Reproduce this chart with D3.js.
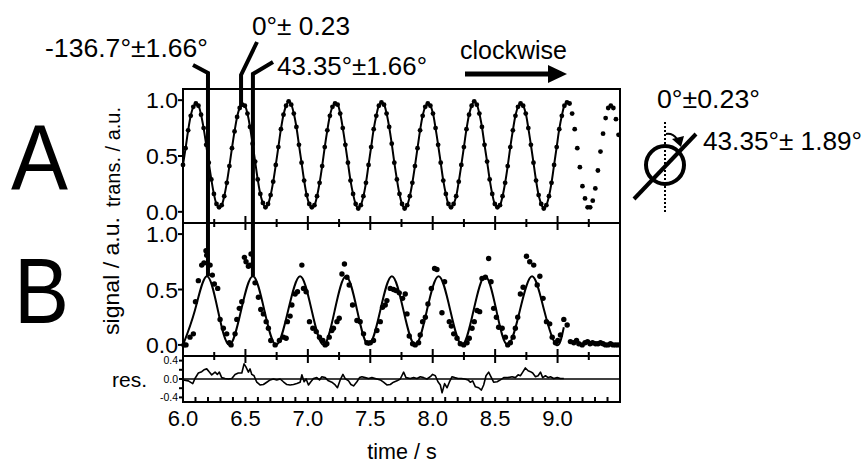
<!DOCTYPE html>
<html>
<head>
<meta charset="utf-8">
<script src="https://cdn.jsdelivr.net/npm/d3@7"></script>
<style>
  body { margin: 0; background: #fff; }
  svg { display: block; }
  text { font-family: "Liberation Sans", Arial, Helvetica, sans-serif; fill: #000; }
</style>
</head>
<body>
<div id="chart"></div>
<script>
// ---- transmission trace (panel A): uniform sampling from 6.0 s ----
const transStart = 6.0;
const transStep = 0.02064;
const transValues = [
  0.42,0.57,0.73,0.86,0.94,0.97,0.95,0.87,0.75,0.60,0.44,0.29,0.16,0.07,0.04,0.06,0.14,0.26,
  0.41,0.57,0.72,0.85,0.93,0.96,0.95,0.88,0.76,0.61,0.45,0.29,0.16,0.08,0.04,0.07,0.15,0.27,
  0.42,0.58,0.74,0.87,0.95,0.99,0.96,0.88,0.76,0.60,0.44,0.28,0.15,0.07,0.04,0.06,0.14,0.26,
  0.41,0.58,0.73,0.86,0.94,0.97,0.96,0.88,0.75,0.60,0.44,0.28,0.16,0.07,0.03,0.06,0.14,0.26,
  0.42,0.58,0.74,0.86,0.95,0.98,0.96,0.88,0.76,0.61,0.44,0.29,0.16,0.07,0.03,0.06,0.14,0.26,
  0.41,0.57,0.73,0.86,0.94,0.97,0.95,0.88,0.75,0.60,0.44,0.28,0.16,0.07,0.04,0.07,0.14,0.27,
  0.42,0.58,0.74,0.87,0.95,0.99,0.96,0.88,0.76,0.60,0.45,0.29,0.16,0.07,0.04,0.06,0.14,0.26,
  0.41,0.58,0.73,0.86,0.94,0.97,0.95,0.88,0.75,0.60,0.44,0.28,0.15,0.07,0.03,0.06,0.14,0.26,
  0.42,0.58,0.74,0.86,0.95,0.98,0.97,0.88,0.74,0.57,0.40,0.23,0.12,0.04,0.04,0.10,0.21,0.37,
  0.54,0.70,0.84,0.93,0.95,0.93,0.83,0.69
];
const transLineEnd = 9.08;   // trace is joined by a line up to this time

// ---- detector signal (panel B) ----
const signalTimes = [
  6.008,6.024,6.056,6.083,6.100,6.123,6.150,6.168,6.184,6.190,6.217,6.235,6.251,6.278,6.297,6.323,6.350,6.371,6.385,
  6.417,6.431,6.451,6.471,6.492,6.505,6.524,6.537,6.545,6.577,6.604,6.623,6.644,6.666,6.684,6.703,6.738,6.772,6.804,
  6.826,6.836,6.858,6.872,6.898,6.917,6.952,6.965,6.986,7.013,7.040,7.067,7.093,7.120,7.139,7.152,7.171,7.192,7.205,
  7.233,7.251,7.273,7.293,7.313,7.331,7.358,7.393,7.419,7.446,7.473,7.500,7.526,7.553,7.580,7.598,7.620,7.633,7.660,
  7.686,7.706,7.732,7.759,7.780,7.794,7.812,7.839,7.860,7.887,7.900,7.919,7.941,7.962,7.989,8.015,8.034,8.074,8.095,
  8.133,8.149,8.168,8.195,8.221,8.248,8.275,8.293,8.315,8.333,8.355,8.376,8.395,8.422,8.448,8.467,8.488,8.510,8.528,
  8.556,8.582,8.601,8.622,8.644,8.662,8.681,8.702,8.724,8.751,8.777,8.809,8.837,8.858,8.884,8.911,8.937,8.957,8.983,
  9.002,9.023,9.050,9.077,9.103,9.130,9.152,9.170,9.197,9.220,9.240,9.260,9.280,9.304,9.324,9.344,9.364,9.384,9.404,
  9.424,9.444,9.465,9.485
];
const signalValues = [
  0.00,0.00,0.07,0.10,0.39,0.58,0.72,0.74,0.85,0.81,0.72,0.63,0.55,0.51,0.23,0.15,0.10,0.02,0.00,
  0.10,0.23,0.33,0.39,0.79,0.75,0.71,0.72,0.82,0.56,0.43,0.32,0.28,0.21,0.15,0.04,0.00,0.04,0.07,
  0.06,0.21,0.26,0.36,0.46,0.48,0.72,0.51,0.48,0.21,0.15,0.12,0.07,0.04,0.00,0.01,0.07,0.13,0.15,
  0.21,0.24,0.64,0.73,0.61,0.54,0.36,0.22,0.21,0.10,0.02,0.02,0.04,0.13,0.21,0.34,0.36,0.40,0.51,
  0.50,0.49,0.47,0.42,0.46,0.28,0.08,0.01,0.00,0.02,0.09,0.21,0.25,0.37,0.51,0.69,0.68,0.29,0.57,
  0.21,0.17,0.10,0.06,0.01,0.00,0.02,0.06,0.15,0.21,0.31,0.30,0.60,0.61,0.78,0.57,0.33,0.25,0.16,
  0.15,0.07,0.00,0.02,0.07,0.15,0.25,0.46,0.52,0.80,0.75,0.72,0.54,0.62,0.42,0.21,0.19,0.07,0.02,
  0.04,0.09,0.23,0.18,0.03,0.02,0.04,0.01,0.00,0.02,0.03,0.01,0.02,0.01,0.01,0.02,0.01,0.00,0.00,
  0.01,0.00,0.00,0.00
];

// ---- fitted signal: extrema and half-height crossings ----
const fitTimes = [
  6.000,6.095,6.190,6.280,6.371,6.465,6.559,6.652,6.746,6.842,6.938,7.031,7.125,7.215,7.305,7.395,7.486,
  7.580,7.673,7.766,7.860,7.953,8.047,8.141,8.235,8.327,8.420,8.510,8.600,8.698,8.796,8.893,8.990,9.050
];
const fitValues = [
  0,0.31,0.62,0.31,0,0.31,0.62,0.31,0,0.31,0.62,0.31,0,0.31,0.62,0.31,0,
  0.31,0.62,0.31,0,0.31,0.62,0.31,0,0.31,0.62,0.31,0,0.31,0.62,0.31,0,0.16
];

// ---- residuals ----
const resTimes = [
  6.002,6.043,6.078,6.096,6.123,6.150,6.168,6.190,6.211,6.230,6.257,6.275,6.291,6.310,6.337,6.363,6.391,6.417,
  6.443,6.471,6.489,6.503,6.524,6.537,6.551,6.569,6.591,6.617,6.644,6.671,6.698,6.724,6.751,6.778,6.804,6.832,
  6.858,6.885,6.912,6.938,6.952,6.970,6.986,7.005,7.024,7.045,7.072,7.093,7.112,7.139,7.165,7.192,7.219,7.237,
  7.259,7.281,7.299,7.326,7.345,7.366,7.393,7.414,7.433,7.459,7.486,7.513,7.553,7.580,7.606,7.633,7.660,7.686,
  7.714,7.740,7.767,7.786,7.820,7.847,7.874,7.901,7.927,7.954,7.981,7.999,8.021,8.042,8.061,8.075,8.095,8.115,
  8.133,8.155,8.176,8.203,8.229,8.256,8.283,8.301,8.320,8.342,8.368,8.390,8.408,8.427,8.448,8.470,8.488,8.516,
  8.542,8.569,8.604,8.636,8.662,8.684,8.702,8.721,8.742,8.764,8.783,8.801,8.823,8.844,8.863,8.881,8.903,8.925,
  8.943,8.969,8.997,9.023,9.050
];
const resValues = [
  -0.02,-0.04,-0.10,0.01,0.13,0.16,0.20,0.22,0.15,0.09,0.15,0.10,0.15,0.03,0.01,0.00,0.01,0.10,
  0.13,0.13,0.33,0.27,0.15,0.22,0.10,0.07,-0.07,-0.13,-0.12,-0.07,-0.02,0.00,-0.02,0.00,-0.06,-0.12,
  -0.13,-0.12,-0.10,-0.07,0.09,-0.06,0.00,-0.13,-0.06,0.01,0.03,-0.02,0.05,0.03,-0.04,-0.07,-0.13,-0.19,
  -0.02,0.10,0.01,-0.04,-0.12,-0.15,-0.06,0.03,0.05,0.03,0.01,0.03,0.00,-0.02,-0.07,-0.13,-0.12,-0.07,
  -0.04,0.00,0.15,0.03,0.01,0.03,0.01,0.05,0.03,0.00,0.05,0.10,0.07,-0.06,-0.13,-0.30,-0.10,-0.19,
  -0.07,0.05,0.03,0.01,0.01,0.00,-0.02,-0.07,-0.04,-0.17,-0.19,-0.24,-0.13,0.07,0.15,0.03,-0.07,-0.06,
  -0.02,0.03,0.03,0.05,0.03,0.09,0.07,0.15,0.24,0.18,0.16,0.13,0.05,0.07,0.15,0.03,0.07,0.03,
  0.05,0.01,0.03,0.01,0.01
];

// ---- axes ----
const timeDomain = [6.0, 9.5];
const timeLabelTicks = [6.0, 6.5, 7.0, 7.5, 8.0, 8.5, 9.0];
const timeTickLabels = ["6.0", "6.5", "7.0", "7.5", "8.0", "8.5", "9.0"];
const ampTicks = [0.0, 0.5, 1.0];
const ampTickLabels = ["0.0", "0.5", "1.0"];
const resTicks = [-0.4, 0.0, 0.4];
const resTickLabels = ["-0.4", "0.0", "0.4"];

// ---- angle annotations ----
const phaseMarks = [
  { label: "-136.7°±1.66°", t: 6.200, panel: "B", v: 0.62 },
  { label: "0°± 0.23",      t: 6.465, panel: "A", v: 0.94 },
  { label: "43.35°±1.66°",  t: 6.560, panel: "B", v: 0.62 }
];

// =====================================================================
const W = 865, H = 463;
const svg = d3.select("#chart").append("svg")
  .attr("width", W).attr("height", H).attr("viewBox", `0 0 ${W} ${H}`);
svg.append("rect").attr("width", W).attr("height", H).attr("fill", "#fff");

const L = 183, R = 620;
const x = d3.scaleLinear().domain(timeDomain).range([L, R]);
const yA = d3.scaleLinear().domain([-0.1, 1.1]).range([223, 89]);
const yB = d3.scaleLinear().domain([-0.1, 1.1]).range([356, 223]);
const yR = d3.scaleLinear().domain([-0.5, 0.5]).range([402, 356]);

const ink = "#000";
const inDomain = t => t >= timeDomain[0] - 1e-9 && t <= timeDomain[1] + 1e-9;

// clip paths for each panel
const defs = svg.append("defs");
function clip(id, y0, y1) {
  defs.append("clipPath").attr("id", id).append("rect")
    .attr("x", L).attr("y", y0).attr("width", R - L).attr("height", y1 - y0);
}
clip("clipA", 89, 223); clip("clipB", 223, 356); clip("clipR", 356, 402);

// ---- panel A: transmission ----
const transData = transValues.map((v, i) => ({ t: transStart + i * transStep, v }));
const gA = svg.append("g").attr("clip-path", "url(#clipA)");
gA.append("path")
  .datum(transData.filter(d => d.t <= transLineEnd))
  .attr("fill", "none").attr("stroke", ink).attr("stroke-width", 2)
  .attr("d", d3.line().x(d => x(d.t)).y(d => yA(d.v)).curve(d3.curveCatmullRom));
svg.append("g").selectAll("circle")
  .data(transData.filter(d => inDomain(d.t)))
  .join("circle")
  .attr("cx", d => x(d.t)).attr("cy", d => yA(d.v)).attr("r", 2.4).attr("fill", ink);

// ---- panel B: signal and fit ----
const fitData = fitTimes.map((t, i) => ({ t, v: fitValues[i] }));
const gB = svg.append("g").attr("clip-path", "url(#clipB)");
gB.append("path").datum(fitData)
  .attr("fill", "none").attr("stroke", ink).attr("stroke-width", 2)
  .attr("d", d3.line().x(d => x(d.t)).y(d => yB(d.v)).curve(d3.curveNatural));
svg.append("g").selectAll("circle")
  .data(signalTimes.map((t, i) => ({ t, v: signalValues[i] })).filter(d => inDomain(d.t)))
  .join("circle")
  .attr("cx", d => x(d.t)).attr("cy", d => yB(d.v)).attr("r", 2.7).attr("fill", ink);

// ---- residual panel ----
const gR = svg.append("g").attr("clip-path", "url(#clipR)");
gR.append("line").attr("x1", L).attr("x2", R).attr("y1", yR(0)).attr("y2", yR(0))
  .attr("stroke", ink).attr("stroke-width", 1.5);
gR.append("path")
  .datum(resTimes.map((t, i) => ({ t, v: resValues[i] })))
  .attr("fill", "none").attr("stroke", ink).attr("stroke-width", 1.6).attr("stroke-linejoin", "round")
  .attr("d", d3.line().x(d => x(d.t)).y(d => yR(d.v)));

// ---- frames ----
const frame = svg.append("g").attr("fill", "none").attr("stroke", ink).attr("stroke-width", 2);
frame.append("rect").attr("x", L).attr("y", 89).attr("width", R - L).attr("height", 402 - 89);
[223, 356].forEach(yy =>
  frame.append("line").attr("x1", L).attr("x2", R).attr("y1", yy).attr("y2", yy));

// ---- time ticks ----
const tickG = svg.append("g").attr("stroke", ink).attr("stroke-width", 2);
const quarterTicks = d3.range(0, 15).map(i => 6.0 + i * 0.25).filter(t => t > 6.0 && t < 9.5);
const tenthTicks = d3.range(0, 36).map(i => 6.0 + i * 0.1).filter(t => t > 6.0 + 1e-6 && t < 9.5 - 1e-6);
const isMajor = t => Math.abs(t * 2 - Math.round(t * 2)) < 1e-6;
// [baseline y, direction (-1 up, +1 down)]
[[223, -1], [223, 1], [356, -1], [356, 1]].forEach(([yy, dir]) => {
  quarterTicks.forEach(t => {
    const len = isMajor(t) ? 7 : 4;
    tickG.append("line").attr("x1", x(t)).attr("x2", x(t)).attr("y1", yy).attr("y2", yy + dir * len);
  });
});
tenthTicks.forEach(t => {
  tickG.append("line").attr("x1", x(t)).attr("x2", x(t)).attr("y1", 402).attr("y2", 397);
});

svg.append("g").selectAll("text").data(timeLabelTicks).join("text")
  .attr("x", d => x(d)).attr("y", 426).attr("text-anchor", "middle")
  .attr("font-size", 22).text((d, i) => timeTickLabels[i]);
svg.append("text").attr("x", 402).attr("y", 459).attr("text-anchor", "middle")
  .attr("font-size", 21.5).text("time / s");

// ---- amplitude axes ----
[yA, yB].forEach(ys => {
  ampTicks.forEach((v, i) => {
    tickG.append("line").attr("x1", L - 5).attr("x2", L).attr("y1", ys(v)).attr("y2", ys(v));
    svg.append("text").attr("x", 178).attr("y", ys(v) + 8).attr("text-anchor", "end")
      .attr("font-size", 22).attr("textLength", 32).attr("lengthAdjust", "spacingAndGlyphs")
      .text(ampTickLabels[i]);
  });
});
[-0.4, -0.2, 0, 0.2, 0.4].forEach(v =>
  tickG.append("line").attr("x1", L - 4).attr("x2", L).attr("y1", yR(v)).attr("y2", yR(v)));
resTicks.forEach((v, i) =>
  svg.append("text").attr("x", 178).attr("y", yR(v) + 3.7).attr("text-anchor", "end")
    .attr("font-size", 10.5).text(resTickLabels[i]));

svg.append("text").attr("transform", "translate(120,157) rotate(-90)")
  .attr("text-anchor", "middle").attr("font-size", 21)
  .attr("textLength", 100).attr("lengthAdjust", "spacingAndGlyphs").text("trans. / a.u.");
svg.append("text").attr("transform", "translate(119,276) rotate(-90)")
  .attr("text-anchor", "middle").attr("font-size", 22)
  .attr("textLength", 118).attr("lengthAdjust", "spacingAndGlyphs").text("signal / a.u.");
svg.append("text").attr("x", 112).attr("y", 387).attr("font-size", 21).text("res.");

// ---- panel letters ----
svg.append("text").attr("x", 11).attr("y", 190).attr("font-size", 92)
  .attr("textLength", 57).attr("lengthAdjust", "spacingAndGlyphs").text("A");
svg.append("text").attr("x", 14).attr("y", 323).attr("font-size", 92)
  .attr("textLength", 55).attr("lengthAdjust", "spacingAndGlyphs").text("B");

// ---- phase markers (leader lines) ----
const yOf = m => (m.panel === "A" ? yA(m.v) : yB(m.v));
const leaderStarts = [[193, 65, 73], [257, 42, 75], [273, 62, 74]]; // start x, start y, elbow y
const leaderG = svg.append("g").attr("fill", "none").attr("stroke", ink)
  .attr("stroke-width", 4).attr("stroke-linejoin", "miter");
phaseMarks.forEach((m, i) => {
  const [sx, sy, ey] = leaderStarts[i];
  leaderG.append("path").attr("d", `M${sx},${sy} L${x(m.t)},${ey} L${x(m.t)},${yOf(m)}`);
});
const labelPos = [[45, 57, 163], [252, 35, 98], [277, 75, 150]];
phaseMarks.forEach((m, i) => {
  const [lx, ly, len] = labelPos[i];
  svg.append("text").attr("x", lx).attr("y", ly).attr("font-size", 26.5)
    .attr("textLength", len).attr("lengthAdjust", "spacingAndGlyphs").text(m.label);
});

// ---- rotation direction ----
svg.append("text").attr("x", 460).attr("y", 59).attr("font-size", 25)
  .attr("textLength", 107).attr("lengthAdjust", "spacingAndGlyphs").text("clockwise");
svg.append("line").attr("x1", 465).attr("x2", 549).attr("y1", 74).attr("y2", 74)
  .attr("stroke", ink).attr("stroke-width", 5);
svg.append("path").attr("d", "M548,65 L567,74 L548,83 Z").attr("fill", ink);

// ---- polariser sketch ----
const sk = svg.append("g");
sk.append("line").attr("x1", 665).attr("x2", 665).attr("y1", 122).attr("y2", 212)
  .attr("stroke", ink).attr("stroke-width", 2).attr("stroke-dasharray", "2,2");
sk.append("circle").attr("cx", 665).attr("cy", 165).attr("r", 19)
  .attr("fill", "none").attr("stroke", ink).attr("stroke-width", 4);
sk.append("line").attr("x1", 634).attr("y1", 199).attr("x2", 696).attr("y2", 134)
  .attr("stroke", ink).attr("stroke-width", 4);
sk.append("path").attr("d", "M666,134 Q673,133 677,139")
  .attr("fill", "none").attr("stroke", ink).attr("stroke-width", 2);
sk.append("path").attr("d", "M672,139 L684,136 L681,147 Z").attr("fill", ink);
sk.append("text").attr("x", 657).attr("y", 108).attr("font-size", 26.5)
  .attr("textLength", 103).attr("lengthAdjust", "spacingAndGlyphs").text("0°±0.23°");
sk.append("text").attr("x", 703).attr("y", 150).attr("font-size", 26)
  .attr("textLength", 159).attr("lengthAdjust", "spacingAndGlyphs").text("43.35°± 1.89°");
</script>
</body>
</html>
